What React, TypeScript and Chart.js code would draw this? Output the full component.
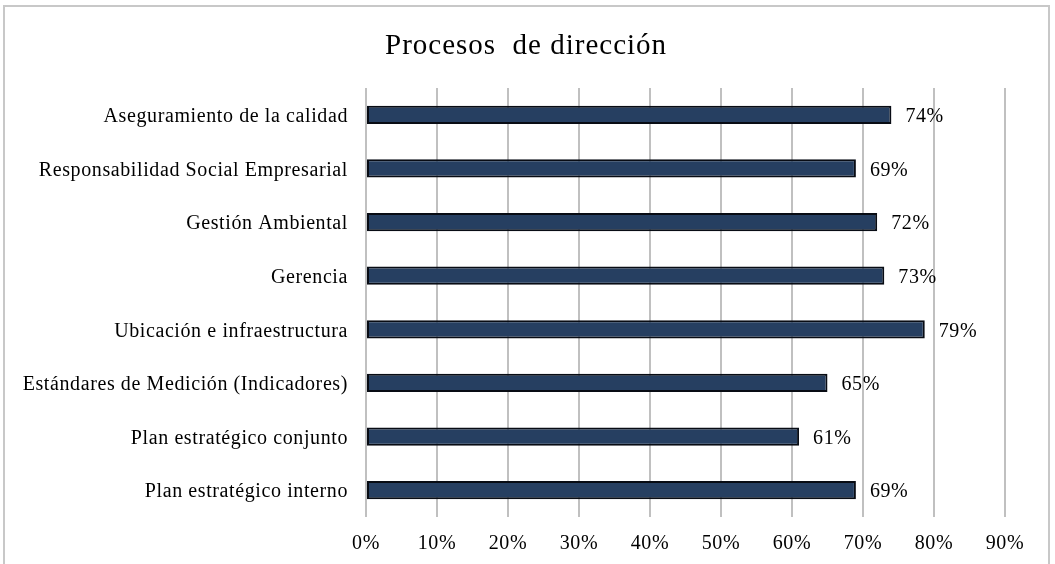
import React, { useEffect, useRef } from "react";
import { Chart, registerables } from "chart.js";

Chart.register(...registerables);

const categories = [
  "Aseguramiento de la calidad",
  "Responsabilidad Social Empresarial",
  "Gestión Ambiental",
  "Gerencia",
  "Ubicación e infraestructura",
  "Estándares de Medición (Indicadores)",
  "Plan estratégico conjunto",
  "Plan estratégico interno",
];
const values = [0.74, 0.69, 0.72, 0.73, 0.787, 0.65, 0.61, 0.69];
const valueLabels = ["74%", "69%", "72%", "73%", "79%", "65%", "61%", "69%"];
const titleText = "Procesos  de dirección";

const FONT = "'Liberation Serif', 'Times New Roman', serif";

const frame = {
  id: "frame",
  beforeDraw(chart: any) {
    const ctx = chart.ctx;
    ctx.save();
    ctx.fillStyle = "#ffffff";
    ctx.fillRect(0, 0, chart.width, chart.height);
    ctx.strokeStyle = "#c8c8c8";
    ctx.lineWidth = 2;
    ctx.strokeRect(4, 6, 1045, 600);
    ctx.font = `29px ${FONT}`;
    ctx.fillStyle = "#000";
    ctx.textAlign = "left";
    ctx.textBaseline = "middle";
    (ctx as any).letterSpacing = "1px";
    ctx.fillText(titleText, 385, 46);
    ctx.restore();
    (ctx as any).letterSpacing = "0.6px";
  },
};

const barLabels = {
  id: "barLabels",
  afterDatasetsDraw(chart: any) {
    const ctx = chart.ctx;
    const meta = chart.getDatasetMeta(0);
    ctx.save();
    ctx.font = `20px ${FONT}`;
    (ctx as any).letterSpacing = "0.6px";
    ctx.fillStyle = "#000";
    ctx.textAlign = "left";
    ctx.textBaseline = "middle";
    meta.data.forEach((el: any, i: number) => {
      ctx.fillText(valueLabels[i], el.x + 14, el.y + 2);
    });
    ctx.restore();
  },
};

export default function App() {
  const ref = useRef<HTMLCanvasElement>(null);
  useEffect(() => {
    document.body.style.margin = "0";
    const chart = new Chart(ref.current!, {
      type: "bar",
      data: {
        labels: categories,
        datasets: [
          {
            data: values,
            backgroundColor: "#263f61",
            borderColor: "#080c14",
            borderWidth: 2,
            borderSkipped: false,
            barPercentage: 0.68,
            categoryPercentage: 0.5,
          },
        ],
      },
      options: {
        indexAxis: "y",
        animation: false,
        responsive: false,
        maintainAspectRatio: false,
        layout: { padding: { top: 88, right: 50, left: 0, bottom: 0 } },
        plugins: {
          legend: { display: false },
          tooltip: { enabled: false },
          title: { display: false },
        },
        scales: {
          x: {
            min: 0,
            max: 0.9,
            ticks: {
              stepSize: 0.1,
              padding: 15,
              color: "#000",
              font: { family: FONT, size: 20 },
              callback: (v: any) => Math.round(Number(v) * 100) + "%",
            },
            grid: { color: "#c0c0c0", lineWidth: 2, drawTicks: false },
            border: { display: false },
            afterFit: (s: any) => {
              s.height = 47;
            },
          },
          y: {
            ticks: {
              padding: 18,
              labelOffset: 2,
              color: "#000",
              font: { family: FONT, size: 20 },
            },
            grid: { display: false, drawTicks: false },
            border: { display: false },
            afterFit: (s: any) => {
              s.width = 366;
            },
          },
        },
      },
      plugins: [frame, barLabels],
    });
    return () => chart.destroy();
  }, []);
  return (
    <div style={{ width: 1055, height: 564 }}>
      <canvas ref={ref} width={1055} height={564} style={{ display: "block" }} />
    </div>
  );
}
